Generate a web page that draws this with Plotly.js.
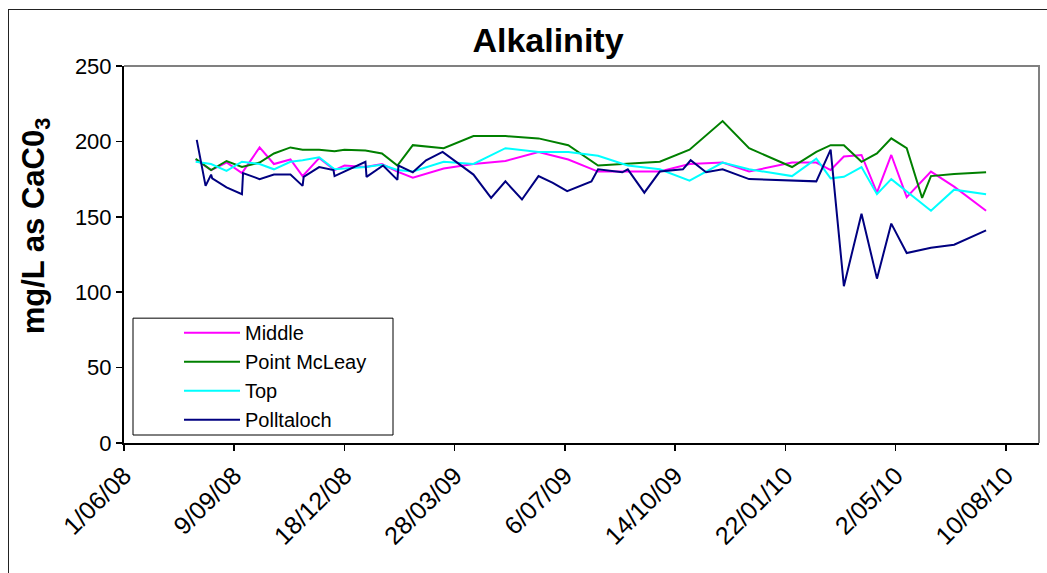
<!DOCTYPE html>
<html>
<head>
<meta charset="utf-8">
<script src="https://cdn.plot.ly/plotly-3.0.1.min.js"></script>
<style>
  html, body { margin: 0; padding: 0; background: #fff; overflow: hidden; }
  #chart { position: absolute; left: 0; top: 0; width: 1047px; height: 573px; }
  #frame { position: absolute; left: 8px; top: 9px; width: 1200px; height: 800px;
           border-left: 1.5px solid #222; border-top: 1.5px solid #222; pointer-events: none; }
</style>
</head>
<body>
<div id="chart"></div>
<div id="frame"></div>
<script>
// Alkalinity sampling, mg/L as CaCO3, at four sites
const middleDates = ['2008-08-05','2008-08-19','2008-09-02','2008-09-16','2008-10-02','2008-10-15','2008-10-30','2008-11-10','2008-11-25','2008-12-09','2008-12-18','2009-01-06','2009-01-21','2009-02-04','2009-02-18','2009-03-18','2009-04-14','2009-05-13','2009-06-12','2009-07-09','2009-08-05','2009-09-30','2009-10-27','2009-11-26','2009-12-20','2010-01-28','2010-02-19','2010-03-04','2010-03-16','2010-04-01','2010-04-15','2010-04-28','2010-05-12','2010-06-03','2010-06-24','2010-07-23'];
const middleValues = [188,181,186,179,196,185,188,177,189,181,184,183,185,180,176,182,185,187,193,188,180,180,185,186,180,186,186,181,190,191,166,191,163,180,170,154];

const mcleayDates = ['2008-08-05','2008-08-19','2008-09-02','2008-09-16','2008-10-02','2008-10-15','2008-10-30','2008-11-10','2008-11-25','2008-12-09','2008-12-18','2009-01-06','2009-01-21','2009-02-04','2009-02-18','2009-03-18','2009-04-14','2009-05-13','2009-06-12','2009-07-09','2009-08-05','2009-09-30','2009-10-27','2009-11-26','2009-12-20','2010-01-28','2010-02-19','2010-03-04','2010-03-16','2010-04-01','2010-04-15','2010-04-28','2010-05-12','2010-05-26','2010-06-03','2010-06-24','2010-07-23'];
const mcleayValues = [188.5,181,187,183,186,192,196,194.5,194.5,193.5,194.5,194,192,184,197.5,195.5,203.5,203.5,202,197.5,184,186.5,194.5,213.5,195.5,183,193,197.5,197.5,186.5,192,202,195.5,162.5,177,178.3,179.5];

const topDates = ['2008-08-05','2008-08-19','2008-09-02','2008-09-16','2008-10-02','2008-10-15','2008-10-30','2008-11-10','2008-11-25','2008-12-09','2008-12-18','2009-01-06','2009-01-21','2009-02-04','2009-02-18','2009-03-18','2009-04-14','2009-05-13','2009-06-12','2009-07-09','2009-08-05','2009-09-01','2009-09-30','2009-10-27','2009-11-26','2009-12-20','2010-01-28','2010-02-19','2010-03-04','2010-03-16','2010-04-01','2010-04-15','2010-04-28','2010-05-12','2010-06-03','2010-06-24','2010-07-23'];
const topValues = [186.5,185,180.5,186.5,185,181.5,186.5,187.5,189.5,181.5,182,183,184.5,181,180,186.5,185,195.5,193,193,190.5,184,181.5,174,186,181.5,177,188.5,175.5,176.5,183,165,175,167,154,168,165];

const polltalochDates = ['2008-08-06','2008-08-14','2008-08-19','2008-08-20','2008-09-02','2008-09-16','2008-09-17','2008-10-02','2008-10-15','2008-10-30','2008-11-10','2008-11-11','2008-11-25','2008-12-08','2008-12-09','2009-01-06','2009-01-07','2009-01-22','2009-02-04','2009-02-05','2009-02-18','2009-03-02','2009-03-17','2009-04-14','2009-04-30','2009-05-13','2009-05-28','2009-06-12','2009-06-25','2009-07-08','2009-07-30','2009-08-05','2009-08-27','2009-09-01','2009-09-16','2009-09-30','2009-10-21','2009-10-28','2009-11-11','2009-11-26','2009-12-20','2010-02-19','2010-03-04','2010-03-16','2010-04-01','2010-04-15','2010-04-28','2010-05-12','2010-06-03','2010-06-24','2010-07-23'];
const polltalochValues = [201,170.5,178,175.5,169.5,165,179,175,178,178,170.5,176.5,183,181,177,186.5,176.5,184,174.5,184,179.5,187.5,193,178,162.5,173.5,161.5,177,172.5,167,173.5,181.5,179.5,181.5,166,180,181.5,187.5,179.5,181.5,175,173.5,194.5,104,152,109,145.5,126,129.5,131.5,141];

// Axis ticks every 100 days
const tickDates = ['2008-06-01','2008-09-09','2008-12-18','2009-03-28','2009-07-06','2009-10-14','2010-01-22','2010-05-02','2010-08-10'];
const tickLabels = ['1/06/08','9/09/08','18/12/08','28/03/09','6/07/09','14/10/09','22/01/10','2/05/10','10/08/10'];

const FONT = 'Liberation Sans, Arial, Helvetica, sans-serif';

function series(name, x, y, color) {
  return { type: 'scatter', mode: 'lines', name: name, x: x, y: y,
           line: { color: color, width: 2 }, hoverinfo: 'x+y' };
}

const data = [
  series('Middle', middleDates, middleValues, '#FF00FF'),
  series('Point McLeay', mcleayDates, mcleayValues, '#008000'),
  series('Top', topDates, topValues, '#00FFFF'),
  series('Polltaloch', polltalochDates, polltalochValues, '#000080')
];

// Plot area: left 124, right 1039, top 65.5, bottom 443 (px)
const L = 124, R = 1039, T = 65.5, B = 443;
const px = v => (v - L) / (R - L);
const py = v => (B - v) / (B - T);

const layout = {
  width: 1047, height: 573,
  margin: { l: L, r: 1047 - R, t: T, b: 573 - B, pad: 0 },
  paper_bgcolor: '#ffffff', plot_bgcolor: '#ffffff',
  font: { family: FONT, color: '#000' },
  title: {
    text: 'Alkalinity',
    font: { family: FONT, size: 34, weight: 'bold', color: '#000' },
    xref: 'container', yref: 'container',
    x: 548 / 1047, xanchor: 'center',
    y: 1 - 40 / 573, yanchor: 'middle'
  },
  xaxis: {
    type: 'date',
    range: ['2008-06-01', '2010-09-09'],
    tickmode: 'array', tickvals: tickDates, ticktext: tickLabels,
    tickangle: -45,
    tickfont: { family: FONT, size: 25, color: '#000' },
    ticks: 'outside', ticklen: 6, tickwidth: 1.5, tickcolor: '#000',
    showline: true, linecolor: '#000', linewidth: 2,
    showgrid: false, zeroline: false, fixedrange: true
  },
  yaxis: {
    range: [0, 250], tickmode: 'linear', tick0: 0, dtick: 50,
    tickfont: { family: FONT, size: 22, color: '#000' },
    ticks: 'outside', ticklen: 6, tickwidth: 1.5, tickcolor: '#000',
    showline: true, linecolor: '#000', linewidth: 2,
    showgrid: false, zeroline: false, fixedrange: true
  },
  showlegend: true,
  legend: {
    x: px(179), y: py(313), xanchor: 'left', yanchor: 'top',
    bgcolor: 'rgba(0,0,0,0)', borderwidth: 0,
    font: { family: FONT, size: 20, color: '#000' },
    itemwidth: 56, tracegroupgap: 0
  },
  shapes: [
    // grey plot-area border on the top and right
    { type: 'path', xref: 'paper', yref: 'paper',
      path: 'M 0 1 L 1 1 L 1 0', line: { color: '#808080', width: 2 } },
    // legend frame
    { type: 'rect', xref: 'paper', yref: 'paper', layer: 'below',
      x0: px(133), x1: px(393), y0: py(435), y1: py(318),
      fillcolor: '#ffffff', line: { color: '#000', width: 1 } }
  ],
  annotations: [
    { text: 'mg/L as CaC0<sub>3</sub>', textangle: -90, showarrow: false,
      xref: 'paper', yref: 'paper', x: px(36), y: py(226),
      xanchor: 'center', yanchor: 'middle',
      font: { family: FONT, size: 31, weight: 'bold', color: '#000' } }
  ]
};

Plotly.newPlot('chart', data, layout, { staticPlot: true, displayModeBar: false });
</script>
</body>
</html>
